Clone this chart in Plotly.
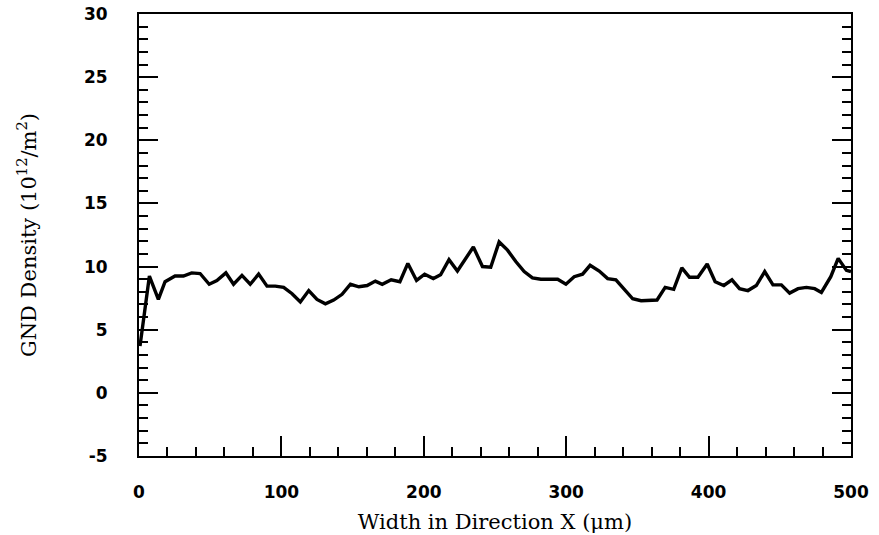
import plotly.graph_objects as go

x_um = [0.7, 7.3, 13.6, 18.3, 25.3, 31.2, 37.0, 42.9, 49.3, 54.7, 61.0, 66.4, 72.3, 78.1, 84.0,
        89.9, 95.7, 101.6, 107.5, 113.3, 119.2, 125.0, 130.9, 136.7, 142.6, 148.5, 154.4, 160.2,
        166.0, 170.8, 177.1, 183.2, 188.8, 194.9, 200.6, 206.7, 211.8, 217.7, 223.6, 229.4,
        234.8, 241.2, 247.0, 252.9, 258.8, 264.6, 270.5, 276.3, 282.2, 288.1, 294.0, 299.8,
        305.6, 311.5, 316.8, 323.2, 329.1, 334.9, 340.8, 346.7, 352.6, 358.4, 363.8, 369.5,
        375.5, 381.2, 386.6, 392.5, 399.0, 404.6, 410.7, 416.4, 421.7, 427.6, 433.5, 439.4,
        445.2, 451.1, 456.9, 462.8, 468.7, 474.5, 479.2, 485.8, 491.0, 496.8, 500.0]
gnd_density = [3.7, 9.25, 7.4, 8.8, 9.25, 9.25, 9.5, 9.45, 8.6, 8.9, 9.5, 8.6, 9.3, 8.6, 9.4,
               8.45, 8.45, 8.35, 7.85, 7.2, 8.1, 7.4, 7.05, 7.35, 7.8, 8.6, 8.4, 8.5,
               8.85, 8.6, 8.95, 8.8, 10.25, 8.9, 9.4, 9.05, 9.35, 10.55, 9.65, 10.65,
               11.55, 10.0, 9.95, 11.95, 11.3, 10.4, 9.6, 9.1, 9.0, 9.0, 9.0, 8.6,
               9.2, 9.4, 10.1, 9.65, 9.05, 8.95, 8.15, 7.45, 7.3, 7.3, 7.35, 8.35,
               8.2, 9.9, 9.15, 9.15, 10.2, 8.8, 8.5, 8.95, 8.25, 8.1, 8.5, 9.6,
               8.55, 8.55, 7.9, 8.25, 8.35, 8.25, 7.95, 9.2, 10.65, 9.7, 9.6]

x_ticks = [0, 100, 200, 300, 400, 500]
y_ticks = [-5, 0, 5, 10, 15, 20, 25, 30]

fig = go.Figure()
fig.add_trace(go.Scatter(x=x_um, y=gnd_density, mode="lines",
                         line=dict(color="black", width=3.4), showlegend=False))

tickfont = dict(family="DejaVu Sans, Arial, sans-serif", size=17, color="black", weight="bold")
titlefont = dict(family="DejaVu Serif, Times New Roman, serif", size=21, color="black")

fig.update_layout(
    template="none",
    width=879, height=535,
    margin=dict(l=139, r=28, t=14, b=79, autoexpand=False),
    paper_bgcolor="white", plot_bgcolor="white",
    xaxis=dict(
        range=[0, 500], tickvals=x_ticks, ticktext=[str(v) for v in x_ticks],
        showgrid=False, zeroline=False, showline=True, linecolor="black", linewidth=2,
        mirror=True, ticks="inside", ticklen=20, tickwidth=1.5, tickcolor="black",
        minor=dict(dtick=20, ticks="inside", ticklen=9, tickwidth=1.5, tickcolor="black", showgrid=False),
        tickfont=tickfont, ticklabelstandoff=20, automargin=False, ticklabeloverflow="allow",
        title=dict(text="Width in Direction X (μm)", font=titlefont, standoff=13),
    ),
    yaxis=dict(
        range=[-5, 30], tickvals=y_ticks, ticktext=[str(v) for v in y_ticks],
        showgrid=False, zeroline=False, showline=True, linecolor="black", linewidth=2,
        mirror="ticks", ticks="inside", ticklen=19, tickwidth=1.5, tickcolor="black",
        minor=dict(dtick=1, ticks="inside", ticklen=9, tickwidth=1.5, tickcolor="black", showgrid=False),
        tickfont=tickfont, ticklabelstandoff=26, automargin=False, ticklabeloverflow="allow",
        title=dict(text="GND Density (10<sup>12</sup>/m<sup>2</sup>)", font=titlefont, standoff=42),
    ),
)

fig.write_html("out.html", config={"displayModeBar": False},
               post_script="document.body.style.margin='0px';document.body.style.overflow='hidden';")
